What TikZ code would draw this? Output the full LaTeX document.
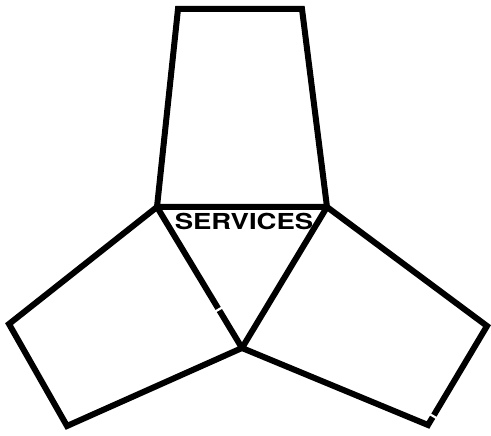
\documentclass[tikz,border=0pt]{standalone}
\usepackage{fontspec}
\usepackage{graphicx}
\setsansfont{TeX Gyre Heros}
\begin{document}
\begin{tikzpicture}[x=1pt,y=-1pt,
  outline/.style={line width=6pt,line join=miter,black},
  gap/.style={line width=2.2pt,white}]
\useasboundingbox (0,0) rectangle (491,436);
% vertices
\coordinate (tl) at (157,207);
\coordinate (tr) at (327,207);
\coordinate (c) at (242,348);
\coordinate (t1) at (178,9);
\coordinate (t2) at (302,9);
\coordinate (l1) at (9,324);
\coordinate (l2) at (67,426);
\coordinate (r1) at (487,326);
\coordinate (r2) at (428,425);
% shapes
\draw[outline] (tl) -- (t1) -- (t2) -- (tr) -- cycle;
\draw[outline] (tl) -- (l1) -- (l2) -- (c) -- cycle;
\draw[outline] (tr) -- (r1) -- (r2) -- (c) -- cycle;
% small breaks in the strokes
\coordinate (g1a) at (211,314);
\coordinate (g1b) at (223,307);
\draw[gap] (g1a) -- (g1b);
\coordinate (g2a) at (428,413);
\coordinate (g2b) at (438,419);
\draw[gap] (g2a) -- (g2b);
% label
\node[font=\sffamily\bfseries\fontsize{22}{22}\selectfont, inner sep=0pt] (lbl) at (244,221) {\scalebox{1.25}[1]{SERVICES}};
\end{tikzpicture}
\end{document}
